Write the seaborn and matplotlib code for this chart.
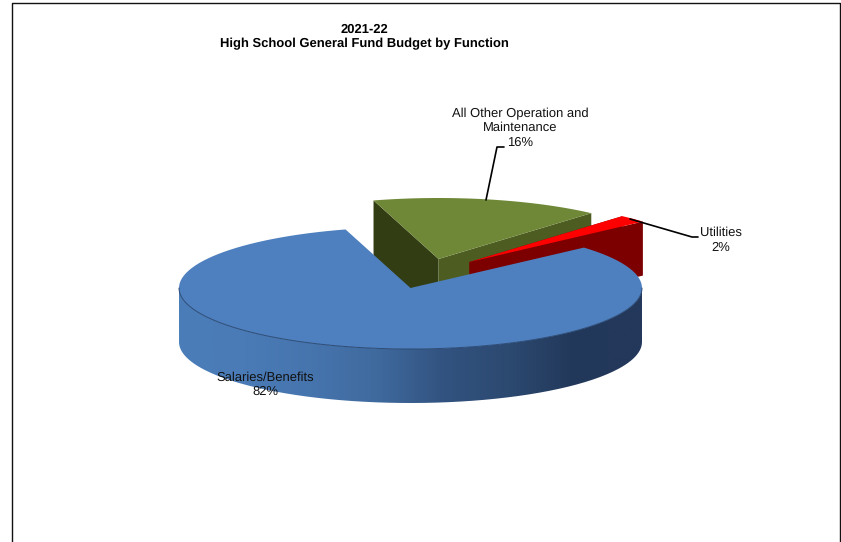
import numpy as np
import matplotlib
matplotlib.use("Agg")
import matplotlib.pyplot as plt
from matplotlib.patches import Polygon, PathPatch
from matplotlib.path import Path
import seaborn as sns

# Budget shares by function
categories = ["Salaries/Benefits", "All Other Operation and\nMaintenance", "Utilities"]
shares = [82, 16, 2]
share_labels = ["82%", "16%", "2%"]

TITLE = "2021-22\nHigh School General Fund Budget by Function"

sns.set_theme(style="white")
plt.rcParams["font.family"] = ["Liberation Sans", "DejaVu Sans"]
plt.rcParams["text.hinting"] = "no_hinting"
plt.rcParams["text.hinting_factor"] = 1

# Pie projection, in pixels of the 841x542 canvas
CX, CY = 410.5, 288.0
RX, RY = 231.5, 61.0
DEPTH = 54.0
START_ANGLE = 48.5                # clockwise from twelve o'clock
EXPLODE = {1: (28, -29), 2: (59, -26)}
CUT_DEPTH = {1: DEPTH + 2.5, 2: DEPTH}

top_colors = ["#4e80bf", "#6f8837", "#ff0000"]
cut_colors = {1: ("#333d14", "#4d5c20"), 2: ("#7c0000", "#7c0000")}
wall_palette = sns.blend_palette(
    ["#4a7db9", "#4a7bb6", "#4674ad", "#3f6a9e", "#325380", "#2c4970", "#22385a", "#24385a"], 200)

fig = plt.figure(figsize=(8.41, 5.42), dpi=100, facecolor="white")
ax = fig.add_axes([0, 0, 1, 1])


def rim(theta, center):
    t = np.radians(theta)
    return np.column_stack([center[0] + RX * np.sin(t), center[1] - RY * np.cos(t)])


# Slice angles come straight from the shares
edges = START_ANGLE + np.cumsum([0] + shares) * 3.6
spans = list(zip(edges[:-1], edges[1:]))


def slice_top(i):
    dx, dy = EXPLODE.get(i, (0, 0))
    c = np.array([CX + dx, CY + dy])
    return c, rim(np.linspace(*spans[i], 120), c)


# Exploded slices sit behind the large one, the small one in front of its neighbour
for z, i in enumerate((1, 2)):
    apex, arc = slice_top(i)
    lead, trail = arc[0], arc[-1]
    drop = np.array([0, CUT_DEPTH[i]])
    for edge, color in zip((lead, trail), cut_colors[i]):
        ax.add_patch(Polygon([edge, apex, apex + drop, edge + drop], closed=True,
                             fc=color, ec="none", zorder=2 + z))
    ax.add_patch(Polygon(np.vstack([apex, arc]), closed=True,
                         fc=top_colors[i], ec="none", zorder=2.5 + z))

# Large slice: shaded side wall, then its top face
apex, arc = slice_top(0)
wall_top = rim(np.linspace(90, 270, 180), apex)
wall_poly = np.vstack([wall_top, wall_top[::-1] + [0, DEPTH]])
clip = PathPatch(Path(np.vstack([wall_poly, wall_poly[:1]])), transform=ax.transData,
                 fc="none", ec="none")
ax.add_patch(clip)
grad = np.array(wall_palette)[None, :, :]
img = ax.imshow(grad, extent=(CX - RX, CX + RX, CY + RY + DEPTH + 1, CY - 1),
                aspect="auto", zorder=5, interpolation="bilinear")
img.set_clip_path(clip)

ax.add_patch(Polygon(np.vstack([apex, arc]), closed=True, fc=top_colors[0], ec="none", zorder=6))
ax.plot(wall_top[:, 0], wall_top[:, 1], color="#2b4a75", lw=0.7, zorder=6.5)

# Frame of the chart area, running off the canvas at the bottom
ax.plot([12.5, 12.5, 840.2, 840.2], [545, 2.5, 2.5, 545], color="#111111", lw=1.0, zorder=1,
        clip_on=False)

# Title and slice labels
ax.text(364, 36.5, TITLE, ha="center", va="center", fontsize=9.25, fontweight="bold",
        color="black", linespacing=1.2, zorder=10)
label_style = dict(ha="center", va="center", fontsize=9.25, color="#111111",
                   linespacing=1.25, zorder=10)
ax.text(265, 384.5, f"{categories[0]}\n{share_labels[0]}", **label_style)
ax.text(520, 128, f"{categories[1]}\n{share_labels[1]}", **label_style)
ax.text(721, 240, f"{categories[2]}\n{share_labels[2]}", **label_style)

# Leader lines
ax.plot([504, 497, 486], [147, 147, 200], color="black", lw=1.2, zorder=9)
ax.plot([630, 692, 698], [219, 237, 237], color="black", lw=1.2, zorder=9)

ax.set_xlim(0, 841)
ax.set_ylim(542, 0)
ax.axis("off")

fig.savefig("out.png", dpi=100, facecolor="white")
